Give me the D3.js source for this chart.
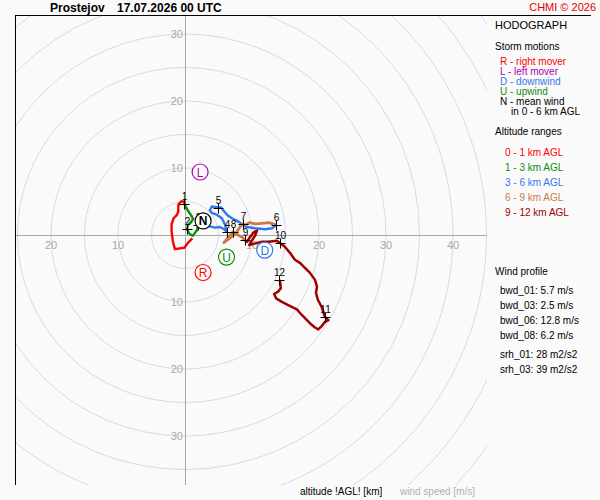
<!DOCTYPE html>
<html lang="en">
<head>
  <meta charset="UTF-8">
  <title>Hodograph Prostejov</title>
  <script src="https://d3js.org/d3.v7.min.js"></script>
  <style>
    body { margin: 0; background: #fafafa; }
    svg { display: block; font-family: "Liberation Sans", Arial, sans-serif; }
  </style>
</head>
<body>
<svg id="hodo" width="600" height="500"></svg>
<script>
  // wind components [u, v] in m/s, split by altitude range
  const layer01 = [[1.1,-0.5],[0.5,-1.1],[-0.1,-1.9],[-1.5,-2.1],[-1.8,-1.0],[-2.0,0.5],[-2.0,1.6],
    [-1.7,2.5],[-1.2,3.0],[-1.0,3.5],[-1.0,4.5],[-0.6,5.0],[-0.1,5.0],[-0.1,4.6]];
  const layer13 = [[-0.1,4.6],[0.45,3.6],[1.0,2.8],[1.2,2.4],[0.9,1.9],[0.45,1.5],[0.3,0.9],[0.5,0.45],
    [0.75,0.1],[1.2,-0.1],[1.8,0.75],[1.95,1.55]];
  const layer36 = [[1.95,1.55],[3.0,1.4],[3.7,1.3],[4.5,1.1],[5.2,1.2],[5.8,0.9],[6.2,0.5],[6.0,1.5],
    [5.5,2.5],[4.8,3.0],[4.0,3.3],[3.7,3.7],[4.0,4.25],[4.9,4.1],[5.4,4.1],[5.8,3.6],[6.3,3.0],
    [7.0,2.5],[8.0,2.0],[9.0,1.25],[10.45,1.0],[11.9,0.85],[13.0,1.0],[13.6,1.5]];
  const layer69 = [[13.6,1.5],[12.5,1.85],[11.5,1.75],[10.45,1.65],[9.7,1.85],[8.95,1.5],[8.6,1.65],
    [8.2,1.2],[7.75,0.5],[7.0,-0.25],[6.3,-0.75],[5.8,-1.15],[6.4,-0.45],[7.15,0.45],[7.9,0.0],
    [8.5,-0.3],[8.9,-0.75]];
  const layer912 = [[8.9,-0.75],[9.25,-1.0],[9.75,-0.25],[10.25,0.4],[10.75,0.65],[10.5,0.0],[9.9,-1.0],
    [9.6,-1.5],[10.5,-1.25],[11.5,-1.0],[12.5,-1.0],[13.7,-0.85],[14.2,-1.2],[14.9,-1.75],[15.7,-2.7],
    [16.4,-3.7],[17.2,-4.2],[17.9,-4.9],[18.65,-5.65],[19.4,-6.7],[19.7,-7.7],[19.55,-8.65],[19.85,-9.7],
    [20.4,-10.75],[20.9,-12.25],[21.4,-12.7],[20.9,-12.95],[20.4,-13.6],[19.9,-14.1],[19.4,-13.8],
    [18.9,-13.4],[18.2,-12.7],[17.4,-11.9],[16.7,-11.1],[15.4,-10.45],[14.4,-9.95],[13.6,-9.45],
    [13.3,-8.8],[13.9,-8.45],[14.3,-7.95],[14.2,-7.0],[14.1,-6.7]];

  // km markers [km, u, v]
  const kmMarks = [[1,-0.1,4.6],[2,0.3,0.9],[3,1.95,1.55],[4,6.2,0.5],[5,4.9,4.1],[6,13.6,1.5],
    [7,8.6,1.65],[8,7.15,0.45],[9,8.9,-0.75],[10,14.2,-1.2],[11,20.9,-12.25],[12,14.1,-6.7]];

  // storm motions [letter, u, v]
  const stormMotions = [["L",2.25,9.4],["R",2.7,-5.6],["U",6.2,-3.3],["D",11.9,-2.25],["N",2.7,2.1]];

  const rings = d3.range(5, 65, 5);
  const xTicks = [-20, -10, 10, 20, 30, 40];
  const yTicks = [-30, -20, -10, 10, 20, 30];

  const stormLegend = [["R - right mover","#ff0000"],["L - left mover","#b000b0"],["D - downwind","#3377ee"],
    ["U - upwind","#108a10"],["N - mean wind","#000000"],["    in 0 - 6 km AGL","#000000"]];
  const altLegend = [["0 - 1 km AGL","#ff0000"],["1 - 3 km AGL","#108a10"],["3 - 6 km AGL","#3377ee"],
    ["6 - 9 km AGL","#cc7a45"],["9 - 12 km AGL","#a00000"]];
  const bwdLines = ["bwd_01: 5.7 m/s","bwd_03: 2.5 m/s","bwd_06: 12.8 m/s","bwd_08: 6.2 m/s"];
  const srhLines = ["srh_01: 28 m2/s2","srh_03: 39 m2/s2"];

  const svg = d3.select("#hodo");
  const x = d3.scaleLinear().domain([0, 40]).range([185, 453]);
  const y = d3.scaleLinear().domain([0, 30]).range([235, 34]);

  svg.append("clipPath").attr("id", "plotClip")
    .append("rect").attr("x", 15).attr("y", 15).attr("width", 472).attr("height", 470);

  const plot = svg.append("g").attr("clip-path", "url(#plotClip)");

  // range rings
  plot.selectAll("circle.ring").data(rings).enter().append("circle")
    .attr("class", "ring")
    .attr("cx", x(0)).attr("cy", y(0))
    .attr("r", d => x(d) - x(0))
    .attr("fill", "none").attr("stroke", "#dadada").attr("stroke-width", 1);

  // axes
  plot.append("line").attr("x1", 15).attr("x2", 487).attr("y1", y(0) + 0.5).attr("y2", y(0) + 0.5)
    .attr("stroke", "#a8a8a8");
  plot.append("line").attr("x1", x(0) + 0.5).attr("x2", x(0) + 0.5).attr("y1", 15).attr("y2", 485)
    .attr("stroke", "#a8a8a8");

  plot.selectAll("text.xt").data(xTicks).enter().append("text")
    .attr("x", d => x(d)).attr("y", y(0) + 14)
    .attr("text-anchor", "middle").attr("font-size", 11).attr("fill", "#a8a8a8")
    .text(d => Math.abs(d));
  plot.selectAll("text.yt").data(yTicks).enter().append("text")
    .attr("x", x(0) - 2).attr("y", d => y(d) + 4)
    .attr("text-anchor", "end").attr("font-size", 11).attr("fill", "#a8a8a8")
    .text(d => Math.abs(d));

  // frame (top and left)
  svg.append("line").attr("x1", 15).attr("x2", 591).attr("y1", 15.5).attr("y2", 15.5).attr("stroke", "#000");
  svg.append("line").attr("x1", 15.5).attr("x2", 15.5).attr("y1", 15).attr("y2", 485).attr("stroke", "#000");

  // hodograph traces
  const line = d3.line().x(d => x(d[0])).y(d => y(d[1]));
  const layers = [
    {pts: layer01, color: "#ff0000", w: 2.4},
    {pts: layer13, color: "#108a10", w: 2.4},
    {pts: layer36, color: "#3377ee", w: 2.4},
    {pts: layer69, color: "#cc7a45", w: 2.8},
    {pts: layer912, color: "#a00000", w: 2.5}
  ];
  plot.selectAll("path.layer").data(layers).enter().append("path")
    .attr("d", d => line(d.pts))
    .attr("fill", "none")
    .attr("stroke", d => d.color)
    .attr("stroke-width", d => d.w)
    .attr("stroke-linejoin", "round");

  // km markers
  const marks = plot.selectAll("g.km").data(kmMarks).enter().append("g")
    .attr("transform", d => `translate(${Math.round(x(d[1])) + 0.5},${Math.round(y(d[2])) + 0.5})`);
  marks.append("line").attr("x1", -5).attr("x2", 5).attr("stroke", "#000");
  marks.append("line").attr("y1", -5).attr("y2", 5).attr("stroke", "#000");
  marks.append("text").attr("y", -5).attr("text-anchor", "middle")
    .attr("font-size", 10).attr("fill", "#000").text(d => d[0]);

  // storm motions
  const smColor = {R: "#ff0000", L: "#b000b0", D: "#3377ee", U: "#108a10", N: "#000000"};
  const sm = plot.selectAll("g.sm").data(stormMotions).enter().append("g")
    .attr("transform", d => `translate(${x(d[1])},${y(d[2])})`);
  sm.append("circle").attr("r", 8).attr("fill", "#fff")
    .attr("stroke", d => smColor[d[0]]).attr("stroke-width", 1.2);
  sm.append("text").attr("y", 4.5).attr("text-anchor", "middle")
    .attr("font-size", 12).attr("font-weight", d => d[0] === "N" ? "bold" : "normal")
    .attr("fill", d => smColor[d[0]]).text(d => d[0]);

  // title
  svg.append("text").attr("x", 50).attr("y", 12).attr("font-size", 12).attr("font-weight", "bold")
    .text("Prostejov");
  svg.append("text").attr("x", 117).attr("y", 12).attr("font-size", 12).attr("font-weight", "bold")
    .text("17.07.2026 00 UTC");
  svg.append("text").attr("x", 596).attr("y", 11).attr("text-anchor", "end").attr("font-size", 11)
    .attr("fill", "#e00000").text("CHMI © 2026");

  // right panel
  const panel = svg.append("g").attr("font-size", 10);
  panel.append("text").attr("x", 495).attr("y", 28.5).attr("font-size", 11).text("HODOGRAPH");
  panel.append("text").attr("x", 495).attr("y", 50).text("Storm motions");
  panel.selectAll("text.sl").data(stormLegend).enter().append("text")
    .attr("x", 500).attr("y", (d, i) => 65 + i * 10)
    .attr("fill", d => d[1]).style("white-space", "pre")
    .text(d => d[0]);
  panel.append("text").attr("x", 495).attr("y", 135).text("Altitude ranges");
  panel.selectAll("text.al").data(altLegend).enter().append("text")
    .attr("x", 505).attr("y", (d, i) => 155.5 + i * 15)
    .attr("fill", d => d[1]).text(d => d[0]);
  panel.append("text").attr("x", 495).attr("y", 275).text("Wind profile");
  panel.selectAll("text.bw").data(bwdLines).enter().append("text")
    .attr("x", 500).attr("y", (d, i) => 294 + i * 15).text(d => d);
  panel.selectAll("text.sr").data(srhLines).enter().append("text")
    .attr("x", 500).attr("y", (d, i) => 358 + i * 15).text(d => d);

  // bottom captions
  svg.append("text").attr("x", 300).attr("y", 495).attr("font-size", 10).text("altitude !AGL! [km]");
  svg.append("text").attr("x", 400).attr("y", 495).attr("font-size", 10).attr("fill", "#b0b0b0")
    .text("wind speed [m/s]");
</script>
</body>
</html>
